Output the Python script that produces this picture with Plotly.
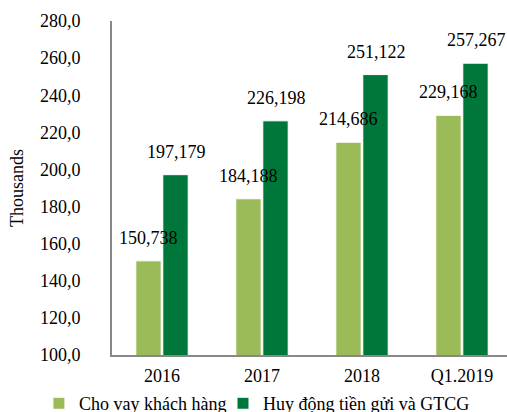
import plotly.graph_objects as go

categories = ["2016", "2017", "2018", "Q1.2019"]
loans = [150738, 184188, 214686, 229168]
deposits = [197179, 226198, 251122, 257267]
series_names = ["Cho vay khách hàng", "Huy động tiền gửi và GTCG"]
tick_values = [100000, 120000, 140000, 160000, 180000, 200000, 220000, 240000, 260000, 280000]
tick_labels = ["100,0", "120,0", "140,0", "160,0", "180,0", "200,0", "220,0", "240,0", "260,0", "280,0"]

LIGHT = "#9BBB59"
DARK = "#00773A"
FONT = "Liberation Serif"

fig = go.Figure()
fig.add_trace(go.Bar(x=categories, y=loans, name=series_names[0], legend="legend",
                     marker=dict(color=LIGHT, line=dict(color="white", width=1))))
fig.add_trace(go.Bar(x=categories, y=deposits, name=series_names[1], legend="legend2",
                     marker=dict(color=DARK, line=dict(color="white", width=1))))

for i, c in enumerate(categories):
    fig.add_annotation(x=i, xref="x", y=loans[i], text=f"{loans[i]:,}", showarrow=False,
                       xshift=-14, yshift=23, yanchor="middle",
                       font=dict(family=FONT, size=18, color="black"))
    fig.add_annotation(x=i, xref="x", y=deposits[i], text=f"{deposits[i]:,}", showarrow=False,
                       xshift=14, yshift=23, yanchor="middle",
                       font=dict(family=FONT, size=18, color="black"))

legend_common = dict(orientation="h", xanchor="left", y=-0.09, yanchor="top",
                     font=dict(family=FONT, size=18), bgcolor="rgba(0,0,0,0)")

fig.update_layout(
    width=507, height=412,
    margin=dict(l=112, r=0, t=21, b=57, autoexpand=False),
    paper_bgcolor="white", plot_bgcolor="white",
    font=dict(family=FONT, size=18, color="black"),
    barmode="group", bargap=0.46, bargroupgap=0.06,
    showlegend=True,
    legend=dict(x=-0.185, **legend_common),
    legend2=dict(x=0.281, **legend_common),
    xaxis=dict(range=[-0.5, 3.45], showline=True, linecolor="#888888", linewidth=2,
               ticks="", showgrid=False, automargin=False, ticklabelstandoff=3,
               tickfont=dict(family=FONT, size=18)),
    yaxis=dict(range=[100000, 280000], tickvals=tick_values, ticktext=tick_labels,
               showline=True, linecolor="#888888", linewidth=2, showgrid=False,
               ticks="", ticklabelstandoff=26, zeroline=False, automargin=False,
               title=dict(text="Thousands", standoff=12, font=dict(family=FONT, size=18)),
               tickfont=dict(family=FONT, size=18)),
)

fig.write_html("out.html", config={"displayModeBar": False},
               post_script="document.body.style.margin='0';document.body.style.overflow='hidden';")
